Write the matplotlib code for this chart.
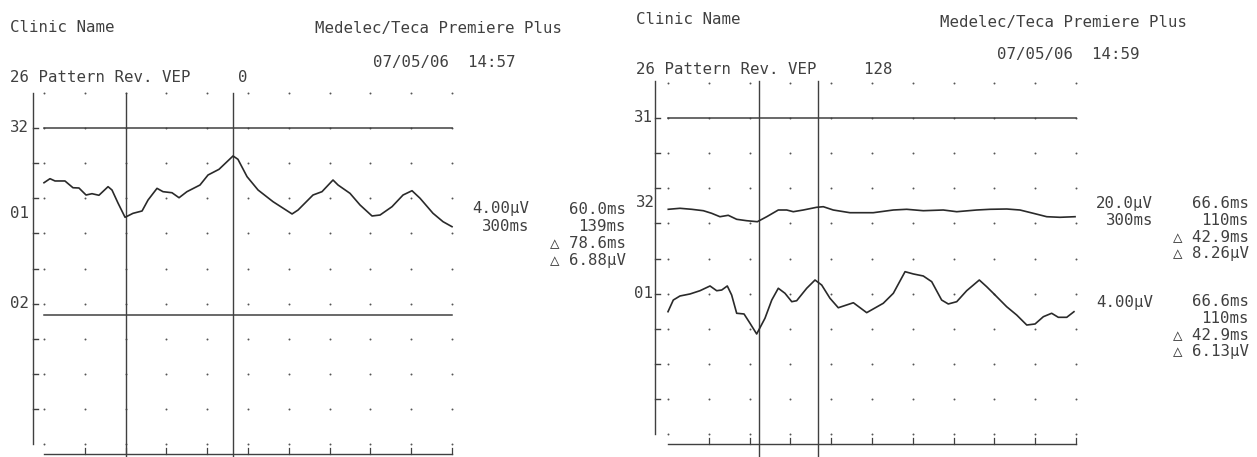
import matplotlib
matplotlib.use("Agg")
import matplotlib.pyplot as plt
import numpy as np

# --- data (time in ms, amplitude in uV) ---
sweep_ms = 300
n_div = 10

# left page: channel 01, 4.00 uV/div, cursors at 60.0 and 139 ms
left_t = [0, 4.4, 8.1, 15.4, 21.3, 25.7, 30.9, 35.3, 40.4, 47.1, 50.0, 54.4, 59.6,
          65.4, 72.1, 76.5, 83.1, 87.5, 94.1, 99.3, 105.1, 114.7, 120.6, 128.7, 139.0,
          142.6, 149.3, 157.4, 168.4, 182.4, 186.8, 197.8, 204.4, 212.5, 216.2, 225.0,
          232.4, 241.2, 247.1, 255.9, 264.0, 270.6, 276.5, 286.0, 293.4, 300]
left_01 = [3.45, 3.91, 3.65, 3.65, 2.88, 2.85, 2.05, 2.20, 2.02, 3.00, 2.62, 1.14, -0.49,
           -0.04, 0.23, 1.48, 2.81, 2.43, 2.31, 1.74, 2.43, 3.19, 4.33, 4.98, 6.50,
           6.12, 4.14, 2.62, 1.29, -0.11, 0.34, 2.05, 2.43, 3.76, 3.19, 2.24,
           0.91, -0.34, -0.23, 0.72, 2.05, 2.54, 1.68, -0.03, -0.99, -1.56]
left_cursors = [60.0, 139]

# right page: channel 32 at 20.0 uV/div, channel 01 at 4.00 uV/div, cursors 66.6 / 110 ms
right_t32 = [0.2, 8.8, 17.4, 26.0, 32.1, 38.2, 44.3, 50.5, 57.9, 65.7, 72.6, 81.1, 87.3,
             92.1, 99.5, 109.3, 114.2, 121.5, 133.8, 150.9, 165.7, 175.5, 187.7, 202.4,
             212.3, 227.0, 236.8, 249.1, 258.8, 268.6, 278.5, 288.2, 299.3]
right_32 = [-3.59, -3.02, -3.59, -4.39, -5.87, -7.81, -7.01, -9.29, -10.09, -10.66, -7.81,
            -3.99, -3.99, -4.96, -3.99, -2.45, -2.11, -3.99, -5.53, -5.53, -3.99, -3.59,
            -4.39, -3.99, -4.96, -3.99, -3.59, -3.42, -3.99, -5.87, -7.81, -8.15, -7.81]
right_t01 = [0, 3.9, 8.8, 16.2, 23.5, 30.9, 35.8, 39.5, 43.6, 46.8, 50.5, 55.9, 60.3, 65.2,
             71.3, 76.3, 81.1, 86.0, 91.0, 94.6, 102.0, 108.1, 113.0, 119.1, 125.2, 136.3,
             146.1, 158.3, 165.7, 174.3, 180.4, 187.7, 193.9, 201.2, 206.1, 212.3, 219.6,
             228.9, 234.3, 239.2, 249.0, 256.4, 263.8, 269.9, 276.0, 282.1, 287.0, 293.2,
             298.5]
right_01 = [-2.13, -0.80, -0.34, -0.11, 0.26, 0.80, 0.26, 0.34, 0.80, -0.23, -2.31, -2.39,
            -3.45, -4.67, -2.88, -0.80, 0.54, -0.03, -0.99, -0.88, 0.54, 1.48, 0.91, -0.60,
            -1.68, -1.11, -2.24, -1.17, -0.03, 2.43, 2.17, 1.94, 1.29, -0.80, -1.25, -0.99,
            0.26, 1.48, 0.72, -0.03, -1.56, -2.51, -3.65, -3.53, -2.70, -2.31, -2.77, -2.77,
            -2.13]
right_cursors = [66.6, 110]

left_notes_a = ["4.00\u00b5V", "300ms"]
left_notes_b = ["60.0ms", "139ms", "\u25b3 78.6ms", "\u25b3 6.88\u00b5V"]
right_notes_32a = ["20.0\u00b5V", "300ms"]
right_notes_32b = ["66.6ms", "110ms", "\u25b3 42.9ms", "\u25b3 8.26\u00b5V"]
right_notes_01a = ["4.00\u00b5V"]
right_notes_01b = ["66.6ms", "110ms", "\u25b3 42.9ms", "\u25b3 6.13\u00b5V"]

W, H = 1257, 457
INK = "#404040"
FONT = ["DejaVu Sans Mono", "DejaVu Sans"]
FS = 11.3

fig = plt.figure(figsize=(W / 100, H / 100), dpi=100)
fig.patch.set_facecolor("white")


def ftext(x, y, s, ha="left"):
    fig.text(x / W, 1 - y / H, s, ha=ha, va="center", fontsize=FS,
             family=FONT, color=INK)


def panel(px0, px1, t0_px, row0_px):
    # one axes per print-out, scaled so that 30 ms and one division match the paper grid
    div_px = 35.1
    ms_px = sweep_ms / (n_div * 40.8)
    ax = fig.add_axes([px0 / W, 0, (px1 - px0) / W, 1])
    ax.set_xlim((px0 - t0_px) * ms_px, (px1 - t0_px) * ms_px)
    ax.set_ylim((row0_px - H) / div_px, row0_px / div_px)
    ax.axis("off")
    return ax, ms_px


def grid(ax, ms_px, axis_px_off, cursors, cursor_top):
    cols = np.linspace(0, sweep_ms, n_div + 1)
    rows = np.arange(0, n_div + 1)
    cx, ry = np.meshgrid(cols, rows)
    ax.scatter(cx.ravel(), ry.ravel(), s=2.0, color="#555555", lw=0)
    ax_x = axis_px_off * ms_px
    ax.plot([ax_x, ax_x], [0, cursor_top], color=INK, lw=1.0)
    for r in rows[1:-1]:
        ax.plot([ax_x, ax_x + 5 * ms_px], [r, r], color=INK, lw=1.0)
    base = -10 / 35.1
    ax.plot([0, sweep_ms], [base, base], color=INK, lw=1.0)
    for c in cols[1:]:
        ax.plot([c, c], [base, base + 6 / 35.1], color=INK, lw=0.9)
    for c in cursors:
        ax.plot([c, c], [-2, cursor_top], color=INK, lw=1.0)


# ---------------- left print-out ----------------
axL, kL = panel(0, 620, 44, 444)
grid(axL, kL, -11, left_cursors, n_div)
axL.plot([0, sweep_ms], [9, 9], color=INK, lw=1.1)                 # channel 32 (flat)
axL.plot([0, sweep_ms], [3.675, 3.675], color=INK, lw=1.1)         # channel 02 (flat)
baseL01 = (444 - 213) / 35.1
axL.plot(left_t, baseL01 + np.array(left_01) / 4.0, color="#2a2a2a", lw=1.2)

ftext(10, 28, "Clinic Name")
ftext(315, 28, "Medelec/Teca Premiere Plus")
ftext(373, 62, "07/05/06  14:57")
ftext(10, 78, "26 Pattern Rev. VEP     0")
ftext(10, 128, "32")
ftext(10, 213, "01")
ftext(10, 303, "02")
for i, s in enumerate(left_notes_a):
    ftext(529, 209 + 17 * i, s, ha="right")
for i, s in enumerate(left_notes_b):
    ftext(626, 209 + 17 * i, s, ha="right")

# ---------------- right print-out ----------------
axR, kR = panel(620, 1257, 668, 434)
grid(axR, kR, -13, right_cursors, n_div + 0.05)
axR.plot([0, sweep_ms], [9, 9], color=INK, lw=1.1)                 # channel 31 (flat)
baseR32 = (434 - 203) / 35.1
baseR01 = (434 - 293) / 35.1
axR.plot(right_t32, baseR32 + np.array(right_32) / 20.0, color="#2a2a2a", lw=1.2)
axR.plot(right_t01, baseR01 + np.array(right_01) / 4.0, color="#2a2a2a", lw=1.2)

ftext(636, 20, "Clinic Name")
ftext(940, 23, "Medelec/Teca Premiere Plus")
ftext(997, 55, "07/05/06  14:59")
ftext(636, 70, "26 Pattern Rev. VEP     128")
ftext(634, 118, "31")
ftext(636, 203, "32")
ftext(634, 293, "01")
for i, s in enumerate(right_notes_32a):
    ftext(1153, 204 + 16.5 * i, s, ha="right")
for i, s in enumerate(right_notes_32b):
    ftext(1249, 204 + 16.5 * i, s, ha="right")
for i, s in enumerate(right_notes_01a):
    ftext(1153, 302 + 16.5 * i, s, ha="right")
for i, s in enumerate(right_notes_01b):
    ftext(1249, 302 + 16.5 * i, s, ha="right")

fig.savefig("out.png", dpi=100, facecolor="white")
